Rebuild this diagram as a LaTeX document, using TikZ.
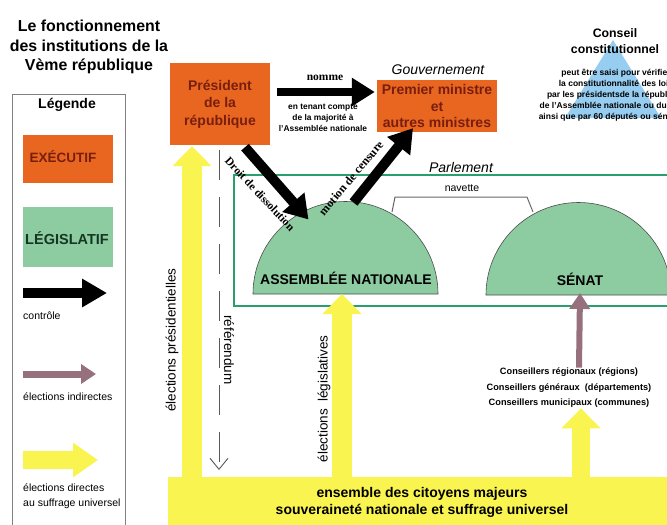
\documentclass[tikz,border=0pt]{standalone}
\usepackage{fontspec}
\setmainfont{Liberation Sans}
\newfontfamily\serifb{Liberation Serif}
\usetikzlibrary{arrows.meta}
\definecolor{orng}{RGB}{232,102,31}
\definecolor{dred}{RGB}{120,30,15}
\definecolor{lgreen}{RGB}{141,203,160}
\definecolor{dgreen}{RGB}{20,55,35}
\definecolor{pgreen}{RGB}{40,160,110}
\definecolor{yel}{RGB}{250,244,80}
\definecolor{mauve}{RGB}{150,112,125}
\definecolor{cblue}{RGB}{150,205,240}
\tikzset{
  exec/.style={fill=orng, text=dred, align=center, inner sep=0pt},
  blk/.style={draw=black, line width=9pt, -{Triangle[width=28pt,length=23pt]}},
  yarr/.style={draw=yel, line width=20pt, -{Triangle[width=38pt,length=20pt]}},
  indarr/.style={draw=mauve, line width=6pt, -{Triangle[width=20pt,length=16pt]}},
  dome/.style={fill=lgreen, draw=black!70, line width=0.6pt},
  smalltxt/.style={font=\fontsize{10.5}{15}\selectfont},
}
\begin{document}
\begin{tikzpicture}[x=1pt,y=-1pt]
\useasboundingbox (0,0) rectangle (667,525);
\fill[white] (0,0) rectangle (667,525);

% title
\node[font=\bfseries\fontsize{15.9}{19.5}\selectfont, align=center] (title) at (89,47) {Le fonctionnement\\des institutions de la\\Vème république};

% legend
\draw[gray, line width=1pt] (12,94) rectangle (125,540);
\node[font=\bfseries\fontsize{14}{16}\selectfont] (leg) at (67,105) {Légende};
\node[fill=orng, minimum width=90pt, minimum height=48pt, inner sep=0pt] (legexec) at (68,159) {};
\node[font=\bfseries\fontsize{13.5}{16}\selectfont, text=dred] (legexect) at (63,157) {EXÉCUTIF};
\node[fill=lgreen, minimum width=90pt, minimum height=60pt, inner sep=0pt] (leglegis) at (68,237) {};
\node[font=\bfseries\fontsize{14.5}{16}\selectfont, text=dgreen] (leglegist) at (67,238) {LÉGISLATIF};
\coordinate (lgA1) at (23,293); \coordinate (lgA2) at (107,293);
\draw[draw=black, line width=10pt, -{Triangle[width=27pt,length=25pt]}] (lgA1) -- (lgA2);
\node[smalltxt, anchor=west, inner sep=0pt] (lgctrl) at (23,316) {contrôle};
\coordinate (lgB1) at (23,374); \coordinate (lgB2) at (96,374);
\draw[indarr, line width=7pt, -{Triangle[width=19pt,length=15pt]}] (lgB1) -- (lgB2);
\node[smalltxt, anchor=west, inner sep=0pt] (lgind) at (23,397) {élections indirectes};
\coordinate (lgC1) at (23,460); \coordinate (lgC2) at (98,460);
\draw[yarr, line width=18pt, -{Triangle[width=33pt,length=25pt]}] (lgC1) -- (lgC2);
\node[smalltxt, anchor=north west, inner sep=0pt, align=left] (lgdir) at (23,484) {élections directes\\au suffrage universel};

% conseil constitutionnel
\fill[cblue] (613,40) -- (565,118) -- (661,118) -- cycle;
\node[font=\bfseries\fontsize{12.3}{16.5}\selectfont, align=center] (cc) at (615,41) {Conseil\\constitutionnel};
\node[font=\bfseries\fontsize{8.5}{11}\selectfont, align=center] (cctext) at (616,95) {peut être saisi pour vérifier\\la constitutionnalité des lois\\par les présidentsde la république\\de l'Assemblée nationale ou du Sénat\\ainsi que par 60 députés ou sénateurs};

% executive boxes
\node[exec, minimum width=100pt, minimum height=82pt, font=\bfseries\fontsize{14}{17.5}\selectfont] (pres) at (220,104) {Président\\de la\\république};
\node[exec, minimum width=120pt, minimum height=52pt, font=\bfseries\fontsize{14}{16.5}\selectfont] (gouv) at (437,106) {Premier ministre\\et\\autres ministres};
\node[font=\itshape\fontsize{14}{16}\selectfont] (gouvlab) at (438,70) {Gouvernement};

% nomme
\draw[blk, line width=8pt, -{Triangle[width=27pt,length=23pt]}] ([shift={(7,-12)}]pres.east) -- ([shift={(-2,-14)}]gouv.west);
\node[font=\serifb\bfseries\fontsize{11.5}{13}\selectfont] (nomme) at (325,78) {nomme};
\node[font=\bfseries\fontsize{8.4}{11}\selectfont, align=center] (tenant) at (323,118) {en tenant compte\\de la majorité à\\l'Assemblée nationale};

% parlement
\draw[pgreen, line width=2pt] (234,175) rectangle (700,306);
\node[font=\itshape\fontsize{14}{16}\selectfont] (parlab) at (461,167) {Parlement};
\filldraw[dome] (253,294) arc[start angle=180, end angle=360, radius=92.5] -- cycle;
\coordinate (antop) at (345.5,201.5);
\coordinate (anbase) at (345.5,294);
\node[font=\bfseries\fontsize{14}{16}\selectfont] (an) at (346,278) {ASSEMBLÉE NATIONALE};
\filldraw[dome] (486,295) arc[start angle=180, end angle=360, radius=92.5] -- cycle;
\coordinate (senbase) at (579,295);
\node[font=\bfseries\fontsize{14}{16}\selectfont] (senat) at (580,279) {SÉNAT};
\coordinate (nav1) at (392,212); \coordinate (nav2) at (533,212);
\draw[black!60, line width=1pt] (nav1) -- (395,197) -- (527,197) -- (nav2);
\node[smalltxt] (navette) at (462,188) {navette};

% base
\node[fill=yel, minimum width=520pt, minimum height=48pt, inner sep=0pt, anchor=north west] (base) at (168,477) {};
\node[font=\bfseries\fontsize{14}{17}\selectfont, align=center] (basetxt) at (422,502) {ensemble des citoyens majeurs\\souveraineté nationale et suffrage universel};

% conseillers
\node[font=\bfseries\fontsize{9.2}{15.5}\selectfont, align=center] (cons) at (569,388) {Conseillers régionaux (régions)\\Conseillers généraux\ \ (départements)\\Conseillers municipaux (communes)};

% yellow arrows
\draw[yarr] ([shift={(24,0)}]base.north west) -- ([shift={(-28,1)}]pres.south);
\draw[yarr] ([shift={(174,0)}]base.north west) -- ([shift={(-3.5,0)}]anbase);
\draw[yarr, line width=18pt] ([shift={(413,0)}]base.north west) -- ([shift={(12,-3)}]cons.south);

% indirect senate
\draw[indarr] ([shift={(10,3)}]cons.north) -- ([shift={(1,-2)}]senbase);

% referendum
\draw[black!65, line width=0.9pt, dash pattern=on 30pt off 17pt, -{Straight Barb[width=18pt,length=11pt]}] ([shift={(-1,5)}]pres.south) -- ([shift={(-1,-7)}]base.north west -| pres.south);
\node[font=\fontsize{13.5}{16}\selectfont, rotate=-90] (refer) at (229,350) {référendum};
\node[font=\fontsize{13.5}{16}\selectfont, rotate=90] (elpres) at (172,340) {élections présidentielles};
\node[font=\fontsize{13.5}{16}\selectfont, rotate=90] (elleg) at (324,399) {élections\ \ législatives};

% control arrows
\draw[blk, line width=10pt] ([shift={(25,2)}]pres.south) -- ([shift={(-37,18)}]antop);
\draw[blk, line width=10pt] ([shift={(8,1)}]antop) -- ([shift={(-24,-4)}]gouv.south);
\node[font=\serifb\bfseries\fontsize{11.5}{14}\selectfont, rotate=-47, inner sep=0pt] (droit) at (260,194) {Droit de dissolution};
\node[font=\serifb\bfseries\fontsize{12}{14}\selectfont, rotate=50, inner sep=0pt] (motion) at (351,178) {motion de censure};
\end{tikzpicture}
\end{document}
